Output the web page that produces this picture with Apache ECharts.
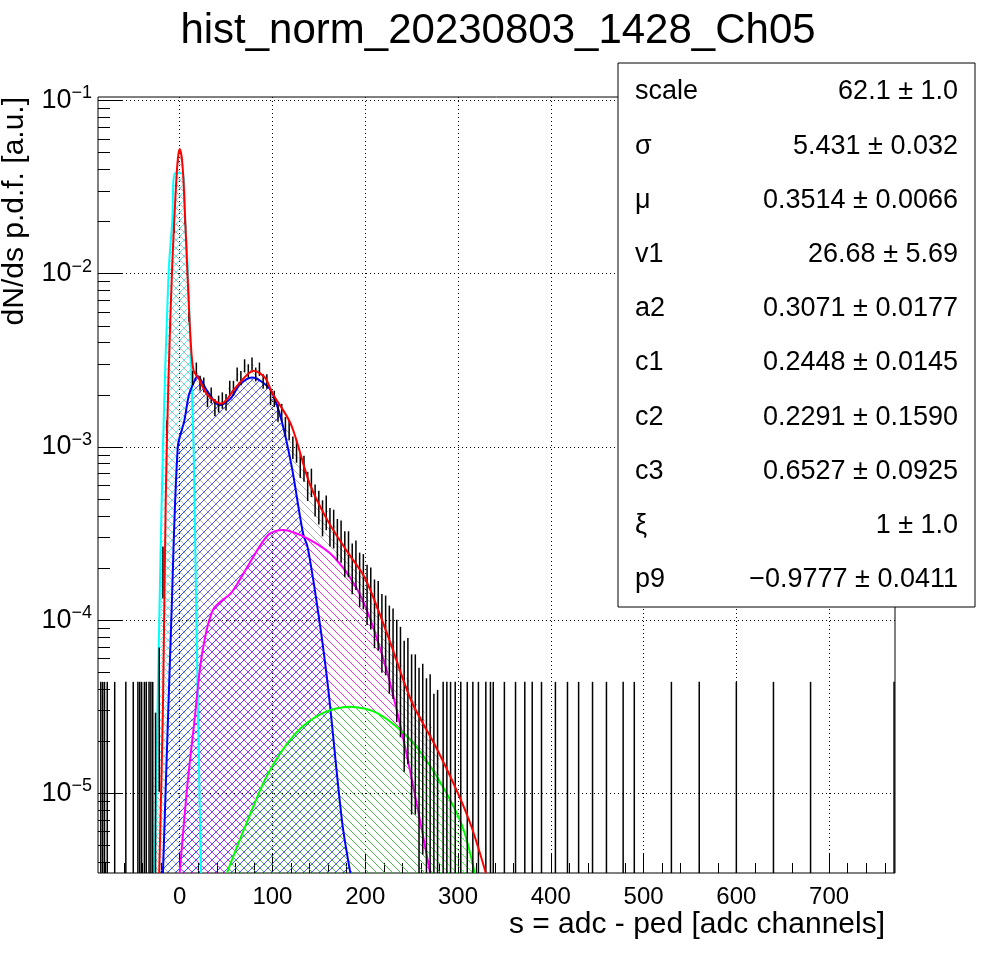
<!DOCTYPE html>
<html>
<head>
<meta charset="utf-8">
<script src="https://cdn.jsdelivr.net/npm/echarts@6/dist/echarts.min.js"></script>
<style>
  html, body { margin: 0; padding: 0; background: #fff; }
  #chart { width: 996px; height: 972px; }
</style>
</head>
<body>
<div id="chart"></div>
<script>
// axis range, y kept as log10(dN/ds)
var xMin = -88, xMax = 771;
var yMin = -5.46, yMax = -0.98;
var xTicks = [0, 100, 200, 300, 400, 500, 600, 700];
var yTicks = [-5, -4, -3, -2, -1];

// histogram, 4-unit bins, log10 of density
var binWidth = 4;
var binCenters = [];
for (var b = -26; b <= 278; b += binWidth) binCenters.push(b);
var histLog = [
	-4.9, -4.4, -3.7, -2.9, -2.3, -1.75, -1.35, -1.33, -1.7, -2.25,
	-2.6, -2.55, -2.63, -2.64, -2.72, -2.7, -2.77, -2.75, -2.73, -2.74,
	-2.66, -2.66, -2.58, -2.6, -2.53, -2.56, -2.52, -2.58, -2.55, -2.62,
	-2.62, -2.71, -2.72, -2.8, -2.8, -2.88, -2.9, -3.0, -3.02, -3.1,
	-3.12, -3.22, -3.2, -3.3, -3.34, -3.4, -3.37, -3.45, -3.46, -3.52,
	-3.53, -3.6, -3.6, -3.68, -3.66, -3.74, -3.75, -3.82, -3.84, -3.92,
	-3.93, -4.02, -4.03, -4.1, -4.12, -4.2, -4.25, -4.35, -4.33, -4.45,
	-4.45, -4.55, -4.52, -4.63, -4.6, -4.75, -4.72
];
// single-count bins far from the peak
var singleBins = [-85, -83, -81, -78, -70, -58, -50, -45, -43, -41, -38, -36, -33, -31, -29,
	284, 288, 292, 297, 303, 310, 316, 322, 330, 335, 338, 350, 362, 372, 380, 390, 405,
	418, 430, 445, 460, 478, 490, 530, 560, 600, 640, 680, 770];
var oneCount = 2.2e-5;

// fit components, [x, log10(y)]
var redFit = [[-22, -5.46], [-18, -4.5], [-15, -3.3], [-12, -2.6], [-8, -1.95], [-4, -1.5], [-2, -1.34], [0, -1.28], [2, -1.32],
	[4, -1.45], [8, -1.95], [12, -2.4], [15, -2.56], [20, -2.6], [30, -2.7], [45, -2.75], [60, -2.66], [80, -2.56], [92, -2.6],
	[100, -2.69], [120, -2.87], [140, -3.21], [160, -3.43], [180, -3.6], [200, -3.76], [225, -4.1], [250, -4.47], [275, -4.72],
	[300, -5.0], [315, -5.2], [330, -5.46]];
var cyanFit = [[-27, -5.46], [-22, -4.0], [-18, -3.0], [-12, -2.0], [-8, -1.7], [-5, -1.42], [3, -1.42], [6, -1.7], [9, -2.0],
	[15, -3.0], [18, -4.0], [23, -5.46]];
var blueFit = [[-18, -5.46], [-9, -4.0], [-2, -3.0], [5, -2.85], [10, -2.7], [16, -2.62], [19, -2.59], [30, -2.68], [43, -2.76],
	[55, -2.72], [65, -2.64], [78, -2.6], [90, -2.63], [99, -2.68], [110, -2.85], [121, -3.12], [133, -3.5], [138, -3.58],
	[150, -3.98], [160, -4.39], [175, -5.16], [184, -5.46]];
var magentaFit = [[0, -5.46], [8, -4.97], [16, -4.58], [24, -4.2], [36, -3.94], [56, -3.84], [70, -3.72], [95, -3.51],
	[111, -3.48], [138, -3.53], [167, -3.64], [196, -3.87], [221, -4.25], [240, -4.66], [257, -5.1], [270, -5.46]];
var greenFit = [[51, -5.46], [70, -5.2], [95, -4.89], [124, -4.66], [153, -4.54], [183, -4.5], [214, -4.54], [250, -4.7],
	[278, -4.91], [304, -5.18], [318, -5.46]];

var statNames = ['scale', 'σ', 'μ', 'v1', 'a2', 'c1', 'c2', 'c3', 'ξ', 'p9'];
var statValues = ['62.1 ± 1.0', '5.431 ± 0.032', '0.3514 ± 0.0066', '26.68 ± 5.69', '0.3071 ± 0.0177',
	'0.2448 ± 0.0145', '0.2291 ± 0.1590', '0.6527 ± 0.0925', '1 ± 1.0', '−0.9777 ± 0.0411'];

function hatch(color, back) {
	var c = document.createElement('canvas');
	c.width = 8; c.height = 8;
	var g = c.getContext('2d');
	g.strokeStyle = color;
	g.lineWidth = 1;
	g.beginPath();
	if (back) {
		g.moveTo(0, 0); g.lineTo(8, 8);
		g.moveTo(-4, 4); g.lineTo(4, 12);
		g.moveTo(4, -4); g.lineTo(12, 4);
	} else {
		g.moveTo(0, 8); g.lineTo(8, 0);
		g.moveTo(-4, 4); g.lineTo(4, -4);
		g.moveTo(4, 12); g.lineTo(12, 4);
	}
	g.stroke();
	return { image: c, repeat: 'repeat' };
}

function lg(v) { return v > 0 ? Math.max(Math.log10(v), yMin) : yMin; }

// error bar items: [x, log low, log high]
var errItems = [];
var histStep = [];
binCenters.forEach(function(x, i) {
	var v = Math.pow(10, histLog[i]);
	var e = Math.sqrt(v * oneCount);
	errItems.push([x, lg(v - e), lg(v + e)]);
	histStep.push([x - binWidth / 2, histLog[i]]);
	histStep.push([x + binWidth / 2, histLog[i]]);
});
singleBins.forEach(function(x) {
	errItems.push([x, yMin, lg(2 * oneCount)]);
});

var yMinor = [];
for (var d = -6; d <= -1; d++) {
	for (var k = 2; k <= 9; k++) {
		var lv = d + Math.log10(k);
		if (lv > yMin && lv < yMax) yMinor.push(lv);
	}
}
var xMinor = [];
for (var m = -80; m <= 770; m += 20) xMinor.push(m);

var supMap = { '-': '−', '1': '1', '2': '2', '3': '3', '4': '4', '5': '5' };

function curve(data, color, back) {
	return {
		type: 'line', data: data, symbol: 'none', smooth: 0.3, z: 3,
		lineStyle: { color: color, width: 2 },
		areaStyle: { color: hatch(color, back), origin: 'start' },
		xAxisIndex: 0, yAxisIndex: 0
	};
}

var chart = echarts.init(document.getElementById('chart'));
var font = 'Liberation Sans, Arial, sans-serif';

var graphics = [
	{ type: 'text', left: 'center', top: 10, style: { text: 'hist_norm_20230803_1428_Ch05', font: '42px ' + font, fill: '#000' } },
	{ type: 'text', right: 111, top: 910, style: { text: 's = adc - ped [adc channels]', font: '30px ' + font, fill: '#000' } },
	{ type: 'text', x: 0, y: 97, rotation: Math.PI / 2, style: { text: 'dN/ds p.d.f. [a.u.]', font: '30px ' + font, fill: '#000', align: 'right', verticalAlign: 'top' } },
	{ type: 'rect', shape: { x: 618, y: 63, width: 357, height: 544 }, style: { fill: '#fff', stroke: '#000', lineWidth: 1 }, z: 100 }
];
statNames.forEach(function(n, i) {
	var y = 92 + i * 54.2;
	graphics.push({ type: 'text', x: 635, y: y, z: 101, style: { text: n, font: '27px ' + font, fill: '#000', verticalAlign: 'middle' } });
	graphics.push({ type: 'text', x: 958, y: y, z: 101, style: { text: statValues[i], font: '27px ' + font, fill: '#000', align: 'right', verticalAlign: 'middle' } });
});

chart.setOption({
	animation: false,
	backgroundColor: '#fff',
	grid: { left: 98, right: 101, top: 97, bottom: 99, show: true, borderColor: '#000', borderWidth: 1 },
	xAxis: [
		{
			type: 'value', min: xMin, max: xMax,
			axisLine: { show: false, onZero: false },
			axisTick: { inside: true, length: 20, lineStyle: { color: '#000' }, customValues: xTicks },
			axisLabel: { customValues: xTicks, color: '#000', fontSize: 24, fontFamily: font, margin: 12 },
			splitLine: { show: true, lineStyle: { color: '#000', type: [1, 3] } }
		},
		{
			type: 'value', min: xMin, max: xMax, position: 'bottom',
			axisLine: { show: false, onZero: false }, axisLabel: { show: false }, splitLine: { show: false },
			axisTick: { inside: true, length: 10, lineStyle: { color: '#000' }, customValues: xMinor }
		}
	],
	yAxis: [
		{
			type: 'value', min: yMin, max: yMax,
			axisLine: { show: false, onZero: false },
			axisTick: { inside: true, length: 24, lineStyle: { color: '#000' }, customValues: yTicks },
			axisLabel: {
				customValues: yTicks, margin: 6,
				formatter: function(v) {
					var s = String(Math.round(v)).split('').map(function(ch) { return supMap[ch]; }).join('');
					return '{a|10}{b|' + s + '}';
				},
				rich: {
					a: { fontSize: 27, fontFamily: font, color: '#000' },
					b: { fontSize: 18, fontFamily: font, color: '#000', verticalAlign: 'top', padding: [0, 0, 14, 0] }
				}
			},
			splitLine: { show: true, lineStyle: { color: '#000', type: [1, 3] } }
		},
		{
			type: 'value', min: yMin, max: yMax, position: 'left',
			axisLine: { show: false, onZero: false }, axisLabel: { show: false }, splitLine: { show: false },
			axisTick: { inside: true, length: 12, lineStyle: { color: '#000' }, customValues: yMinor }
		}
	],
	graphic: graphics,
	series: [
		{
			type: 'line', data: histStep, symbol: 'none', z: 1,
			lineStyle: { width: 0 },
			areaStyle: { color: hatch('rgba(0,0,0,0.45)', true), origin: 'start' }
		},
		curve(cyanFit, '#00ffff', false),
		curve(blueFit, '#0000ff', false),
		curve(magentaFit, '#ff00ff', true),
		curve(greenFit, '#00ff00', true),
		{
			type: 'custom', z: 4,
			data: errItems,
			renderItem: function(params, api) {
				var lo = api.coord([api.value(0), api.value(1)]);
				var hi = api.coord([api.value(0), api.value(2)]);
				return { type: 'line', shape: { x1: lo[0], y1: lo[1], x2: hi[0], y2: hi[1] }, style: { stroke: '#000', lineWidth: 1.5 } };
			},
			clip: true
		},
		{
			type: 'line', data: redFit, symbol: 'none', smooth: 0.3, z: 5,
			lineStyle: { color: '#ff0000', width: 2 }
		}
	]
});
</script>
</body>
</html>
